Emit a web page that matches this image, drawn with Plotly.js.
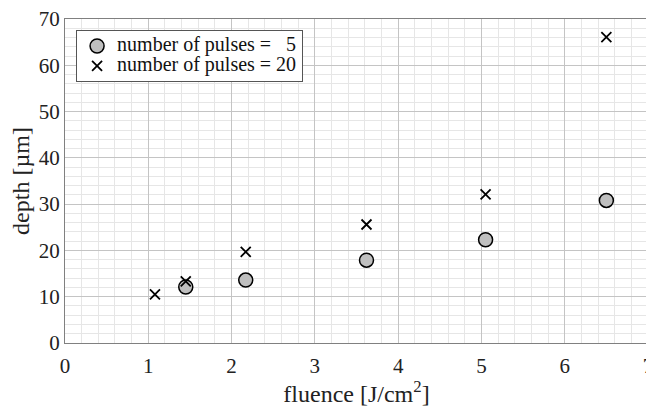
<!DOCTYPE html>
<html>
<head>
<meta charset="utf-8">
<script src="https://cdn.plot.ly/plotly-3.0.1.min.js"></script>
<style>html,body{margin:0;padding:0;overflow:hidden;background:#fff;}</style>
</head>
<body>
<div id="chart"></div>
<script>
// Data
const fluence5 = [1.45, 2.17, 3.62, 5.05, 6.5];
const depth5 = [12.1, 13.6, 17.9, 22.3, 30.8];
const fluence20 = [1.08, 1.45, 2.17, 3.62, 5.05, 6.5];
const depth20 = [10.5, 13.3, 19.7, 25.6, 32.1, 66.1];
const seriesNames = ['number of pulses = \u20075', 'number of pulses = 20'];
const xTicks = [0, 1, 2, 3, 4, 5, 6, 7];
const yTicks = [0, 10, 20, 30, 40, 50, 60, 70];

const font = "'Liberation Serif', 'Times New Roman', serif";

const legendLabel = s => '<span style="font-size:20px">' + s + '</span>';

const traces = [
  {
    x: fluence5, y: depth5, type: 'scatter', mode: 'markers', name: legendLabel(seriesNames[0]),
    marker: {symbol: 'circle', size: 14, color: '#bfbfbf', line: {color: '#000', width: 1.5}}
  },
  {
    x: fluence20, y: depth20, type: 'scatter', mode: 'markers', name: legendLabel(seriesNames[1]),
    marker: {symbol: 'x-thin', size: 10, color: '#000', line: {color: '#000', width: 1.8}}
  }
];

const layout = {
  width: 670, height: 407,
  margin: {l: 65, r: 22, t: 19, b: 64},
  paper_bgcolor: '#fff', plot_bgcolor: '#fff',
  font: {family: font, size: 20, color: '#222'},
  showlegend: true,
  legend: {
    x: 0.019, y: 0.966, xanchor: 'left', yanchor: 'top',
    bgcolor: '#fff', bordercolor: '#555', borderwidth: 1,
    font: {family: font, size: 13, color: '#111'},
    tracegroupgap: 0, itemwidth: 30
  },
  xaxis: {
    range: [0, 7], tickvals: xTicks, ticktext: xTicks.map(String),
    showgrid: true, gridcolor: '#c4c4c4', gridwidth: 1,
    minor: {dtick: 0.2, showgrid: true, gridcolor: '#e6e6e6', gridwidth: 1},
    showline: true, mirror: true, linecolor: '#808080', linewidth: 1,
    zeroline: false, ticks: '', ticklabelstandoff: 4,
    tickfont: {family: font, size: 21, color: '#222'},
    title: {text: 'fluence [J/cm<sup>2</sup>]', font: {family: font, size: 24, color: '#222'}, standoff: 4}
  },
  yaxis: {
    range: [0, 70], tickvals: yTicks, ticktext: yTicks.map(String),
    showgrid: true, gridcolor: '#c4c4c4', gridwidth: 1,
    minor: {dtick: 2, showgrid: true, gridcolor: '#e6e6e6', gridwidth: 1},
    showline: true, mirror: true, linecolor: '#808080', linewidth: 1,
    zeroline: false, ticks: '',
    tickfont: {family: font, size: 21, color: '#222'},
    title: {text: 'depth [\u00b5m]', font: {family: font, size: 24, color: '#222'}, standoff: 2}
  }
};

Plotly.newPlot('chart', traces, layout, {displayModeBar: false, staticPlot: true});
</script>
</body>
</html>
